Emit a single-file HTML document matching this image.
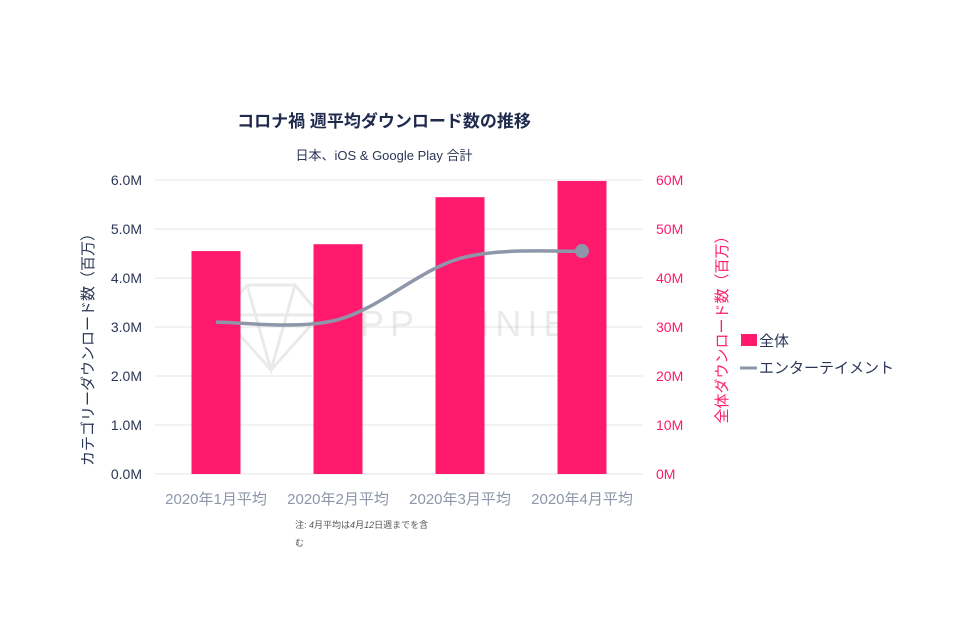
<!DOCTYPE html>
<html><head><meta charset="utf-8"><style>
body{margin:0;background:#fff}
svg{display:block;font-family:"Liberation Sans","Noto Sans CJK JP",sans-serif}
</style></head><body>
<svg id="chart" width="960" height="640">
<g id="grid"></g>
<g id="wm" opacity="0.08">
<path d="M222 315 L247 285 L295 285 L320 315 L271 370 Z M222 315 L320 315 M247 285 L271 370 L295 285" fill="none" stroke="#000" stroke-width="3"/>
<text x="330" y="336" font-size="36" fill="#000" letter-spacing="6">APP ANNIE</text>
</g>
<g id="bars"></g>
<g id="line"></g>
<g id="axes"></g>
<text x="384" y="127" text-anchor="middle" font-size="17" font-weight="bold" fill="#1f2a4d">コロナ禍 週平均ダウンロード数の推移</text>
<text x="384" y="160" text-anchor="middle" font-size="13" fill="#2b3555">日本、iOS &amp; Google Play 合計</text>
<text transform="translate(93,346) rotate(-90)" text-anchor="middle" font-size="15" fill="#2b3555">カテゴリーダウンロード数（百万）</text>
<text transform="translate(727,326) rotate(-90)" text-anchor="middle" font-size="15" fill="#ff1a6e">全体ダウンロード数（百万）</text>
<g>
<rect x="741" y="334" width="16" height="12" fill="#ff1a6e"/>
<text x="759" y="346" font-size="15" fill="#2b3555">全体</text>
<line x1="740" y1="368" x2="757" y2="368" stroke="#8e96aa" stroke-width="3"/>
<text x="759" y="373" font-size="15" fill="#2b3555">エンターテイメント</text>
</g>
<text x="295" y="528" font-size="9" fill="#555">注: <tspan font-style="italic">4</tspan>月平均は<tspan font-style="italic">4</tspan>月<tspan font-style="italic">12</tspan>日週までを含</text>
<text x="295" y="546" font-size="9" fill="#555">む</text>
</svg>
<script>
const categories=["2020年1月平均","2020年2月平均","2020年3月平均","2020年4月平均"];
const totalValues=[45.5,46.9,56.5,59.8];
const entValues=[3.1,3.15,4.4,4.55];
const leftTicks=[0,1,2,3,4,5,6];
const leftTickLabels=["0.0M","1.0M","2.0M","3.0M","4.0M","5.0M","6.0M"];
const rightTicks=[0,10,20,30,40,50,60];
const rightTickLabels=["0M","10M","20M","30M","40M","50M","60M"];
const NS="http://www.w3.org/2000/svg";
const X0=155,X1=643,Y0=474,Y1=180;
const yL=v=>Y0-(v/6)*(Y0-Y1);
const yR=v=>Y0-(v/60)*(Y0-Y1);
const band=(X1-X0)/categories.length;
const xC=i=>X0+band*(i+0.5);
function mk(tag,attrs,parent){const e=document.createElementNS(NS,tag);for(const k in attrs)e.setAttribute(k,attrs[k]);parent.appendChild(e);return e;}
const grid=document.getElementById('grid'),axes=document.getElementById('axes');
leftTicks.forEach((t,i)=>{
  const g=mk('line',{x1:X0,x2:X1,y1:yL(t),y2:yL(t),stroke:'#e4e6ea','stroke-width':1},grid);
  
  
  const l=mk('text',{x:142,y:yL(t)+5,'text-anchor':'end','font-size':14,fill:'#2b3555'},axes);
  l.textContent=leftTickLabels[i];
  
  
});
rightTicks.forEach((t,i)=>{
  const l=mk('text',{x:656,y:yR(t)+5,'font-size':14,fill:'#ff1a6e'},axes);
  l.textContent=rightTickLabels[i];
  
  
});
categories.forEach((c,i)=>{
  const l=mk('text',{x:xC(i),y:504,'text-anchor':'middle','font-size':15,fill:'#8e96aa'},axes);
  l.textContent=c;
  
  
});
const bars=document.getElementById('bars');
const bw=49;
totalValues.forEach((v,i)=>{
  const r=mk('rect',{x:xC(i)-bw/2,y:yR(v),width:bw,height:Y0-yR(v),fill:'#ff1a6e'},bars);
  
  
});
const pts=entValues.map((v,i)=>[xC(i),yL(v)]);
let d=`M${pts[0][0]},${pts[0][1]}`;
for(let i=0;i<pts.length-1;i++){
  const p0=pts[i-1]||pts[i],p1=pts[i],p2=pts[i+1],p3=pts[i+2]||p2,s=6;
  d+=` C${p1[0]+(p2[0]-p0[0])/s},${p1[1]+(p2[1]-p0[1])/s} ${p2[0]-(p3[0]-p1[0])/s},${p2[1]-(p3[1]-p1[1])/s} ${p2[0]},${p2[1]}`;
}
const line=document.getElementById('line');
const p=mk('path',{d:d,fill:'none',stroke:'#8e96aa','stroke-width':3.5},line);


const last=pts[pts.length-1];
const m=mk('circle',{cx:last[0],cy:last[1],r:7,fill:'#8e96aa'},line);


</script>
</body></html>
